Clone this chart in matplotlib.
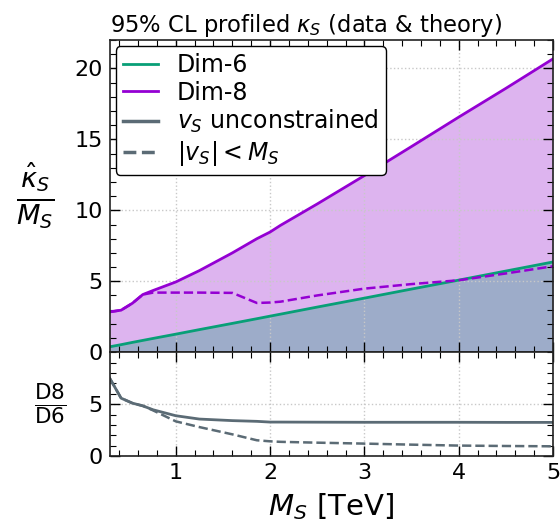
import numpy as np
import matplotlib
matplotlib.use("Agg")
import matplotlib.pyplot as plt
from matplotlib.ticker import MultipleLocator, FixedLocator

# data
m_s = [0.3, 0.42, 0.54, 0.65, 0.76, 1.0, 1.25, 1.6, 1.86, 2.0, 2.11, 2.5, 3.0, 3.5, 4.0, 4.5, 5.0]
dim6 = [0.38, 0.53, 0.69, 0.83, 0.97, 1.27, 1.59, 2.03, 2.36, 2.54, 2.68, 3.18, 3.81, 4.45, 5.08, 5.72, 6.36]
dim8 = [2.84, 2.96, 3.45, 4.06, 4.35, 4.95, 5.75, 7.0, 8.0, 8.47, 8.94, 10.45, 12.45, 14.5, 16.57, 18.6, 20.68]
dim8_c = [2.84, 2.96, 3.45, 4.06, 4.2, 4.2, 4.2, 4.18, 3.47, 3.5, 3.56, 4.0, 4.48, 4.8, 5.07, 5.55, 6.06]
ratio = [7.49, 5.58, 5.1, 4.84, 4.46, 3.89, 3.57, 3.42, 3.35, 3.28, 3.28, 3.27, 3.26, 3.26, 3.26, 3.25, 3.25]
ratio_c = [7.49, 5.58, 5.1, 4.84, 4.4, 3.35, 2.8, 2.1, 1.53, 1.43, 1.38, 1.3, 1.21, 1.11, 1.02, 0.98, 0.95]

c6 = "#089f77"
c8 = "#9400d3"
cg = "#5b6b75"

plt.rcParams["font.family"] = "DejaVu Sans"
plt.rcParams["mathtext.fontset"] = "dejavusans"

fig = plt.figure(figsize=(5.6, 5.28), dpi=100)
ax = fig.add_axes([0.196, 0.333, 0.7915, 0.591])
ax2 = fig.add_axes([0.196, 0.136, 0.7915, 0.197], sharex=ax)

ax.fill_between(m_s, 0, dim8, color="#ddb4ef", lw=0)
ax.fill_between(m_s, 0, dim6, color="#9dacc9", lw=0)
ax.plot(m_s, dim6, color=c6, lw=2, label="Dim-6")
ax.plot(m_s, dim8, color=c8, lw=2, label="Dim-8")
ax.plot(m_s, dim8_c, color=c8, lw=1.8, ls="--")
ax.plot([], [], color=cg, lw=2.5, label=r"$v_S$ unconstrained")
ax.plot([], [], color=cg, lw=2.5, ls="--", label=r"$|v_S| < M_S$")

ax2.plot(m_s, ratio, color=cg, lw=2)
ax2.plot(m_s, ratio_c, color=cg, lw=1.8, ls="--")

ax.set_xlim(0.3, 5)
ax.set_ylim(0, 22)
ax2.set_ylim(0, 10)

for a in (ax, ax2):
    a.tick_params(which="both", direction="in", top=True, right=True, labelsize=16, pad=5)
    a.tick_params(which="major", length=7, width=1)
    a.tick_params(which="minor", length=4, width=0.8)
    a.xaxis.set_major_locator(MultipleLocator(1))
    a.xaxis.set_minor_locator(MultipleLocator(0.2))
    a.yaxis.set_minor_locator(MultipleLocator(1))
    a.grid(True, ls=":", color="#c8c8c8", lw=1)
    for s in a.spines.values():
        s.set_linewidth(1.2)
        s.set_color("#222222")
ax.yaxis.set_major_locator(MultipleLocator(5))
ax2.yaxis.set_major_locator(FixedLocator([0, 5]))
ax.tick_params(labelbottom=False)

ax.set_title(r"95% CL profiled $\kappa_S$ (data & theory)", fontsize=16.3, pad=6, loc="left")
ax.set_ylabel(r"$\frac{\hat{\kappa}_S}{M_S}$", fontsize=28, rotation=0, labelpad=28, va="center")
ax2.set_ylabel(r"$\frac{\rm D8}{\rm D6}$", fontsize=22, rotation=0, labelpad=28, va="center")
ax2.set_xlabel(r"$M_S$ [TeV]", fontsize=21, labelpad=6)

leg = ax.legend(loc="upper left", fontsize=17, frameon=True, fancybox=True,
                handlelength=1.5, labelspacing=0.15, borderpad=0.3, handletextpad=0.8,
                borderaxespad=0.25)
leg.get_frame().set_edgecolor("black")
leg.get_frame().set_alpha(1)
leg.get_frame().set_linewidth(1)

plt.savefig("out.png", dpi=100)
